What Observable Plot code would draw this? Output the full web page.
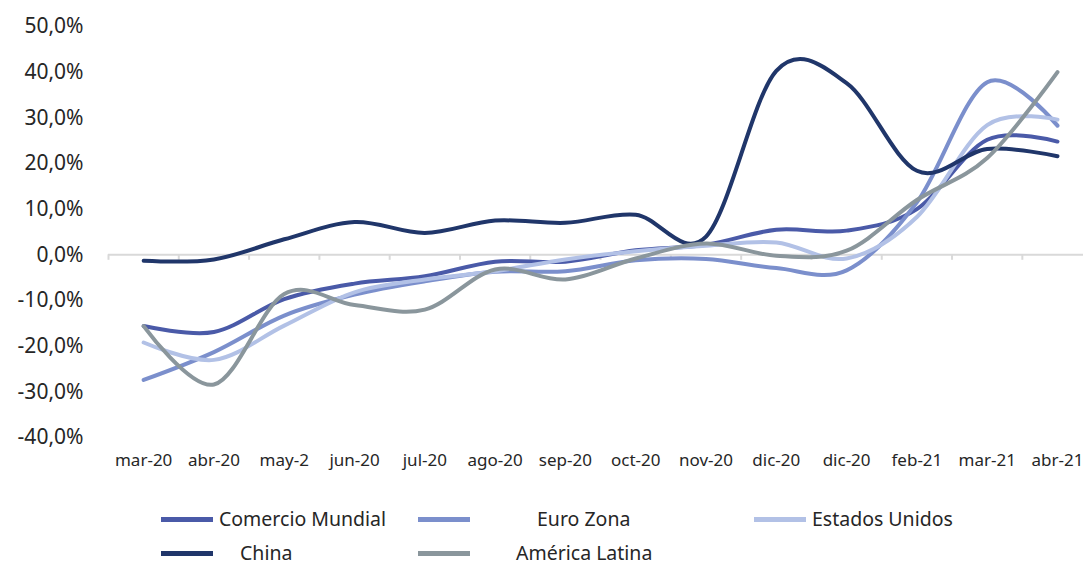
<!DOCTYPE html>
<html>
<head>
<meta charset="utf-8">
<script src="https://cdn.jsdelivr.net/npm/d3@7"></script>
<script src="https://cdn.jsdelivr.net/npm/@observablehq/plot@0.6"></script>
<style>
  html, body { margin: 0; padding: 0; background: #fff; }
  #wrap { position: relative; width: 1083px; height: 566px; overflow: hidden; font-family: "Noto Sans", sans-serif; }
  .leg { position: absolute; font-size: 19.5px; color: #262626; white-space: pre; line-height: 1; }
  .sw { position: absolute; height: 5px; }
</style>
</head>
<body>
<div id="wrap"></div>
<script>
const categories = ["mar-20","abr-20","may-2","jun-20","jul-20","ago-20","sep-20","oct-20","nov-20","dic-20","dic-20","feb-21","mar-21","abr-21"];
const seriesNames = ["Comercio Mundial","Euro Zona","Estados Unidos","China","América Latina"];
const seriesColors = ["#4a5aa8","#7b8fcc","#b2c1e6","#20366a","#8a969c"];
const comercioMundial = [-15.6,-16.9,-9.7,-6.3,-4.7,-1.5,-1.5,1.0,2.2,5.5,5.3,10.0,25.2,24.8];
const euroZona        = [-27.4,-21.3,-13.3,-8.7,-5.8,-3.7,-3.6,-1.2,-0.9,-2.9,-3.4,11.5,37.8,28.3];
const estadosUnidos   = [-19.2,-23.0,-15.5,-8.2,-5.4,-3.6,-1.0,0.8,2.0,2.7,-0.8,8.3,28.4,29.6];
const china           = [-1.3,-1.0,3.4,7.2,4.8,7.5,7.0,8.8,4.0,40.3,37.6,18.4,23.2,21.6];
const americaLatina   = [-15.6,-28.4,-8.6,-11.0,-12.0,-3.2,-5.4,-0.8,2.5,-0.2,0.9,12.0,21.2,40.0];
const yTicks = [-40,-30,-20,-10,0,10,20,30,40,50];

const seriesValues = [comercioMundial, euroZona, estadosUnidos, china, americaLatina];
const data = [];
seriesNames.forEach((name, s) => {
  seriesValues[s].forEach((v, i) => data.push({serie: name, i, value: v}));
});
const boundaries = d3.range(categories.length + 1).map(i => i - 0.5);
const fmt = d => d.toFixed(1).replace(".", ",") + "%";

const chart = Plot.plot({
  width: 1083,
  height: 490,
  marginLeft: 108,
  marginRight: 0,
  marginTop: 26,
  marginBottom: 53,
  style: {fontFamily: "Noto Sans, sans-serif", color: "#262626", background: "#fff"},
  x: {type: "linear", domain: [-0.5, 13.37]},
  y: {domain: [-40, 50]},
  color: {domain: seriesNames, range: seriesColors},
  marks: [
    Plot.ruleY([0], {stroke: "#d9d9d9", strokeWidth: 2}),
    Plot.ruleX(boundaries, {x: d => d, y1: 0, y2: -1.2, stroke: "#d9d9d9", strokeWidth: 2}),
    Plot.axisY({ticks: yTicks, tickFormat: fmt, tickSize: 0, tickPadding: 25, fontSize: 21, label: null, fill: "#262626"}),
    Plot.axisX({ticks: d3.range(categories.length), tickFormat: i => categories[i], tickSize: 0, tickPadding: 16, fontSize: 17, label: null, fill: "#262626"}),
    Plot.line(data, {x: "i", y: "value", z: "serie", stroke: "serie", strokeWidth: 4, curve: "cardinal"})
  ]
});
const wrap = document.getElementById("wrap");
wrap.appendChild(chart);

const legendItems = [
  {name: seriesNames[0], color: seriesColors[0], sx: 161, sw: 52, tx: 219, y: 519},
  {name: seriesNames[1], color: seriesColors[1], sx: 418, sw: 52, tx: 537, y: 519},
  {name: seriesNames[2], color: seriesColors[2], sx: 754, sw: 52, tx: 812, y: 519},
  {name: seriesNames[3], color: seriesColors[3], sx: 161, sw: 52, tx: 240, y: 553},
  {name: seriesNames[4], color: seriesColors[4], sx: 418, sw: 52, tx: 516, y: 553}
];
legendItems.forEach(it => {
  const sw = document.createElement("div");
  sw.className = "sw";
  sw.style.left = it.sx + "px";
  sw.style.width = it.sw + "px";
  sw.style.top = (it.y - 2.5) + "px";
  sw.style.background = it.color;
  wrap.appendChild(sw);
  const t = document.createElement("div");
  t.className = "leg";
  t.textContent = it.name;
  t.style.left = it.tx + "px";
  t.style.top = (it.y - 10.5) + "px";
  wrap.appendChild(t);
});
</script>
</body>
</html>
